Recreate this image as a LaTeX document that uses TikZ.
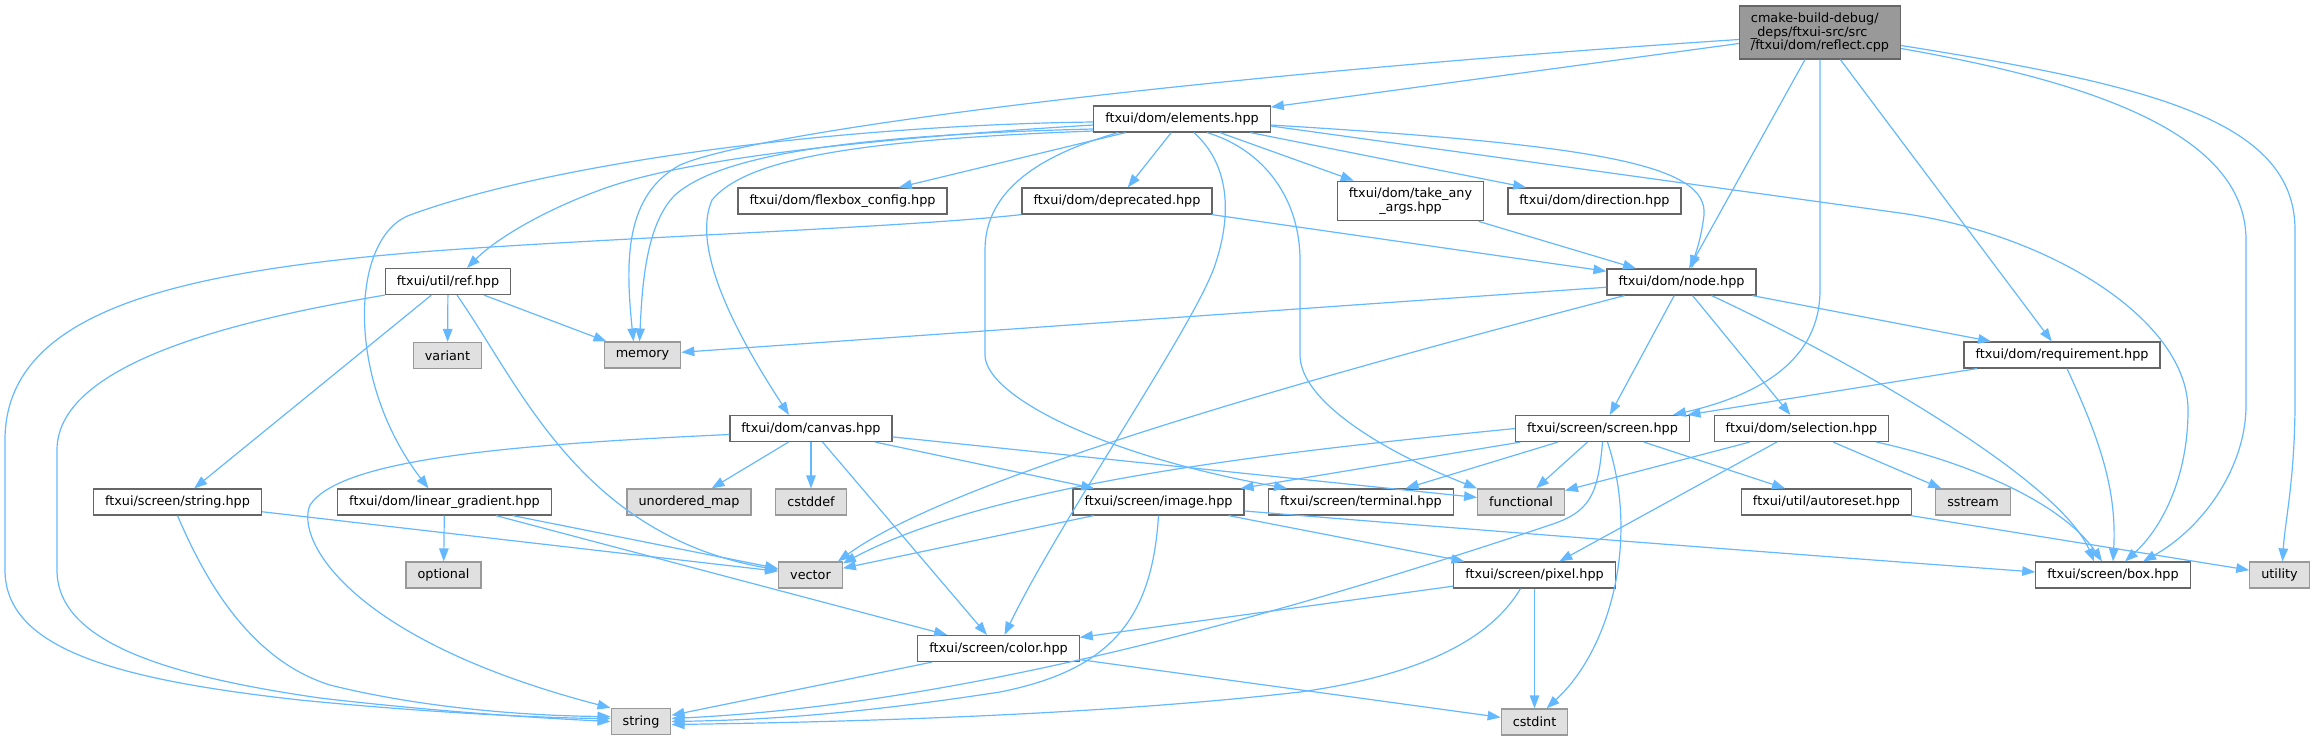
\documentclass[tikz,border=0pt]{standalone}
\usepackage{fontspec}
\setmainfont{DejaVu Sans}
\usetikzlibrary{arrows.meta}
\definecolor{depblue}{HTML}{63B8FF}
\definecolor{boxedge}{HTML}{666666}
\definecolor{sysedge}{HTML}{999999}
\definecolor{sysfill}{HTML}{E0E0E0}
\definecolor{rootfill}{HTML}{999999}

\begin{document}
\begin{tikzpicture}[x=1pt,y=-1pt,>={Triangle[length=13pt,width=9.5pt]},
    file/.style={draw=boxedge,fill=white,line width=1.2pt,inner xsep=11.5pt,inner ysep=6.5pt,
      minimum height=26pt,font=\fontsize{12.8pt}{13.8pt}\selectfont},
    sysfile/.style={file,draw=sysedge,fill=sysfill},
    rootfile/.style={file,fill=rootfill,align=left},
    dep/.style={->,depblue,line width=1.2pt}]
  \useasboundingbox (0,0) rectangle (2318,740);

  % files
  \node[rootfile] (reflect) at (1820,32.5) {cmake-build-debug/\\\_deps/ftxui-src/src\\/ftxui/dom/reflect.cpp};
  \node[file] (elements) at (1182,119) {ftxui/dom/elements.hpp};
  \node[file] (flexbox) at (842.5,201) {ftxui/dom/flexbox\_config.hpp};
  \node[file] (deprecated) at (1117,201) {ftxui/dom/deprecated.hpp};
  \node[file,align=center] (takeany) at (1410.5,201) {ftxui/dom/take\_any\\\_args.hpp};
  \node[file] (direction) at (1594.5,201) {ftxui/dom/direction.hpp};
  \node[file] (ref) at (448,281.5) {ftxui/util/ref.hpp};
  \node[file] (domnode) at (1681.5,282) {ftxui/dom/node.hpp};
  \node[file] (requirement) at (2062,355) {ftxui/dom/requirement.hpp};
  \node[file] (screen) at (1602.5,428.5) {ftxui/screen/screen.hpp};
  \node[file] (selection) at (1801.5,428.5) {ftxui/dom/selection.hpp};
  \node[file] (canvas) at (811,428.5) {ftxui/dom/canvas.hpp};
  \node[file] (scrstring) at (177.5,502) {ftxui/screen/string.hpp};
  \node[file] (lingrad) at (444.5,502) {ftxui/dom/linear\_gradient.hpp};
  \node[file] (image) at (1158.5,502) {ftxui/screen/image.hpp};
  \node[file] (terminal) at (1361,502) {ftxui/screen/terminal.hpp};
  \node[file] (autoreset) at (1826.5,502) {ftxui/util/autoreset.hpp};
  \node[file] (pixel) at (1534.5,575) {ftxui/screen/pixel.hpp};
  \node[file] (box) at (2113,575) {ftxui/screen/box.hpp};
  \node[file] (color) at (998.5,648.5) {ftxui/screen/color.hpp};

  % system headers
  \node[sysfile] (variant) at (447.5,355.5) {variant};
  \node[sysfile] (memory) at (642.5,355) {memory};
  \node[sysfile] (umap) at (689,502) {unordered\_map};
  \node[sysfile] (cstddef) at (811,502) {cstddef};
  \node[sysfile] (functional) at (1521,502) {functional};
  \node[sysfile] (sstream) at (1973,502) {sstream};
  \node[sysfile] (optional) at (443.5,575) {optional};
  \node[sysfile] (vector) at (810.5,575) {vector};
  \node[sysfile] (utility) at (2279.5,575) {utility};
  \node[sysfile] (string) at (641,721.5) {string};
  \node[sysfile] (cstdint) at (1534.5,722) {cstdint};

  % straight includes
  \path[dep]
    (reflect) edge (elements)
              edge (domnode)
              edge (requirement)
    (elements) edge (flexbox)
               edge (deprecated)
               edge (takeany)
               edge (direction)
    (deprecated) edge (domnode)
    (takeany) edge (domnode)
    (ref) edge (variant)
          edge (memory)
          edge (scrstring)
    (scrstring) edge (vector)
    (lingrad) edge (optional)
              edge (vector)
              edge (color)
    (canvas) edge (umap)
             edge (cstddef)
             edge (color)
             edge (image)
             edge (functional)
    (color) edge (string)
            edge (cstdint)
    (pixel) edge (color)
            edge (cstdint)
    (image) edge (vector)
            edge (pixel)
    (screen) edge (image)
             edge (terminal)
             edge (functional)
             edge (autoreset)
    (domnode) edge (memory)
              edge (screen)
              edge (selection)
              edge (requirement)
    (requirement) edge (screen)
    (selection) edge (functional)
                edge (sstream)
                edge (pixel)
    (autoreset) edge (utility);

  % curved includes
  \draw[dep] ([yshift=-7pt]reflect.west) .. controls (1200,75) and (760,130) .. (680,165)
    .. controls (625,195) and (625,260) .. ([xshift=-9pt]memory.north);
  \draw[dep] (reflect.south) -- (1820,290) .. controls (1820,360) and (1760,395) .. ([xshift=-17pt]screen.north east);
  \draw[dep] ([yshift=-16pt]reflect.east) .. controls (2080,80) and (2246,130) .. (2246,240) -- (2246,405)
    .. controls (2246,470) and (2200,530) .. ([xshift=30pt]box.north);
  \draw[dep] ([yshift=-13pt]reflect.east) .. controls (2150,85) and (2295,120) .. (2295,230) -- (2295,400)
    .. controls (2295,480) and (2285,520) .. ([xshift=3pt]utility.north);

  \draw[dep] ([yshift=-6pt]elements.east) .. controls (1600,145) and (1708,165) .. (1704,215)
    .. controls (1701,240) and (1695,255) .. ([xshift=10pt]domnode.north);
  \draw[dep] ([yshift=-7pt]elements.east) -- (1900,213) .. controls (2050,234) and (2188,320) .. (2188,410)
    .. controls (2188,480) and (2160,530) .. ([xshift=12pt]box.north);
  \draw[dep] ([yshift=-6pt]elements.west) .. controls (850,140) and (680,160) .. (600,190)
    .. controls (540,212) and (495,240) .. ([xshift=19pt]ref.north);
  \draw[dep] ([yshift=-3pt]elements.west) .. controls (850,125) and (560,160) .. (410,215)
    .. controls (350,237) and (345,380) .. ([xshift=-16pt]lingrad.north);
  \draw[dep] ([yshift=-10pt]elements.west) .. controls (850,135) and (720,155) .. (675,195)
    .. controls (645,225) and (642,290) .. ([xshift=-3pt]memory.north);
  \draw[dep] ([yshift=-12pt]elements.west) .. controls (850,140) and (745,160) .. (712,200)
    .. controls (690,250) and (740,340) .. ([xshift=-22pt]canvas.north);
  \draw[dep] ([xshift=-64pt]elements.south) .. controls (1040,155) and (985,190) .. (985,250) -- (985,355)
    .. controls (985,395) and (1100,455) .. ([xshift=-74pt]terminal.north);
  \draw[dep] ([xshift=12pt]elements.south) .. controls (1230,165) and (1232,215) .. (1215,265)
    .. controls (1195,325) and (1060,520) .. ([xshift=6pt]color.north);
  \draw[dep] ([xshift=25pt]elements.south) .. controls (1265,150) and (1300,200) .. (1300,260) -- (1300,355)
    .. controls (1300,400) and (1380,450) .. (functional.north west);

  \draw[dep] (deprecated.south west) .. controls (900,228) and (600,238) .. (420,252)
    .. controls (180,272) and (5,310) .. (5,440) -- (5,570)
    .. controls (5,650) and (120,680) .. (300,700)
    .. controls (420,712) and (540,718) .. ([yshift=3pt]string.west);
  \draw[dep] (ref.south west) .. controls (250,318) and (57,360) .. (57,450) -- (57,570)
    .. controls (57,640) and (160,675) .. (320,698)
    .. controls (440,712) and (540,718) .. (string.west);
  \draw[dep] ([xshift=9pt]ref.south) .. controls (520,385) and (580,535) .. ([yshift=5pt]vector.west);
  \draw[dep] (scrstring.south) .. controls (205,580) and (250,660) .. (330,685)
    .. controls (430,710) and (540,716) .. ([yshift=5pt]string.west);
  \draw[dep] ([yshift=-6pt]canvas.west) .. controls (500,445) and (340,460) .. (310,505)
    .. controls (295,540) and (350,640) .. (string.north west);

  \draw[dep] (image.south) .. controls (1152,620) and (1110,670) .. (1000,692)
    .. controls (850,715) and (760,720) .. (string.east);
  \draw[dep] ([yshift=-9pt]image.east) .. controls (1600,540) and (1900,562) .. ([yshift=3pt]box.west);
  \draw[dep] (screen.south) .. controls (1598,495) and (1590,512) .. (1550,525)
    .. controls (1250,625) and (950,705) .. ([yshift=3pt]string.east);
  \draw[dep] (screen.west) .. controls (1300,450) and (1000,480) .. ([yshift=-2pt]vector.north east);
  \draw[dep] ([xshift=5pt]screen.south) .. controls (1640,540) and (1610,650) .. ([xshift=12pt]cstdint.north);
  \draw[dep] ([xshift=-14pt]pixel.south) .. controls (1490,640) and (1420,675) .. (1300,692)
    .. controls (1100,715) and (850,722) .. ([yshift=-3pt]string.east);

  \draw[dep] ([xshift=-57pt]domnode.south) .. controls (1300,380) and (950,480) .. ([xshift=-5pt]vector.north east);
  \draw[dep] ([xshift=30pt]domnode.south) .. controls (1850,360) and (2060,480) .. ([xshift=-19pt]box.north);
  \draw[dep] ([xshift=5pt]requirement.south) .. controls (2100,440) and (2117,490) .. (box.north);
  \draw[dep] ([xshift=75pt]selection.south) .. controls (1960,460) and (2060,500) .. ([xshift=-11pt]box.north);
\end{tikzpicture}
\end{document}
